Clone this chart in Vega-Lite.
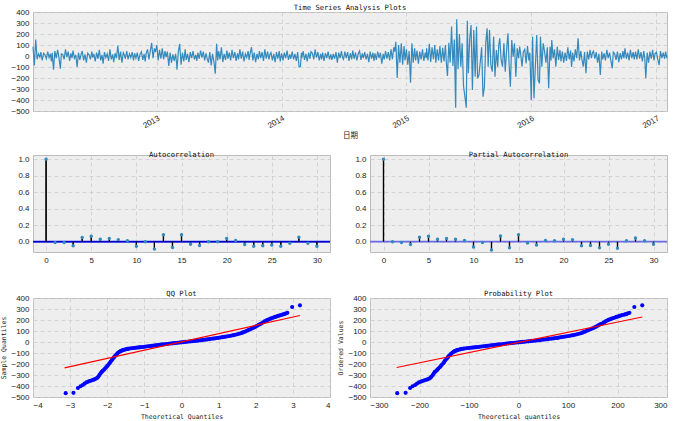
{
 "$schema": "https://vega.github.io/schema/vega-lite/v6.json",
 "background": "white",
 "padding": {"left": 0, "top": 3, "right": 5, "bottom": 0},
 "spacing": 143,
 "bounds": "flush",
 "config": {
  "font": "Liberation Sans",
  "view": {"stroke": "#bcbcbc", "strokeWidth": 1, "fill": "#eeeeee"},
  "axis": {"grid": true, "gridColor": "#cccccc", "gridDash": [4, 3], "gridWidth": 0.8, "domain": false, "ticks": false, "labelOverlap": false, "labelBound": false, "labelFont": "Liberation Sans", "labelFontSize": 8, "labelColor": "#222222", "labelPadding": 4, "titleFont": "DejaVu Sans Mono", "titleFontSize": 6.5, "titleFontWeight": "normal", "titleColor": "#222222"},
  "title": {"font": "DejaVu Sans Mono", "fontSize": 7.2, "fontWeight": "normal", "color": "#111111", "offset": -3, "frame": "group"}
 },
 "datasets": {
  "ts": [
   {"d":"2012-01-05","v":85},{"d":"2012-01-09","v":-85},{"d":"2012-01-13","v":150},{"d":"2012-01-17","v":-30},{"d":"2012-01-21","v":20},{"d":"2012-01-25","v":-10},{"d":"2012-01-28","v":35},
   {"d":"2012-02-01","v":-40},{"d":"2012-02-05","v":25},{"d":"2012-02-09","v":10},{"d":"2012-02-13","v":-25},{"d":"2012-02-17","v":40},{"d":"2012-02-21","v":-15},{"d":"2012-02-25","v":20},{"d":"2012-02-28","v":-50},
   {"d":"2012-03-01","v":30},{"d":"2012-03-05","v":-125},{"d":"2012-03-09","v":45},{"d":"2012-03-13","v":-20},{"d":"2012-03-17","v":55},{"d":"2012-03-21","v":-15},{"d":"2012-03-25","v":-115},{"d":"2012-03-28","v":20},
   {"d":"2012-04-01","v":15},{"d":"2012-04-05","v":-30},{"d":"2012-04-09","v":60},{"d":"2012-04-13","v":-10},{"d":"2012-04-17","v":40},{"d":"2012-04-21","v":-45},{"d":"2012-04-25","v":25},{"d":"2012-04-28","v":-20},
   {"d":"2012-05-01","v":50},{"d":"2012-05-05","v":-20},{"d":"2012-05-09","v":10},{"d":"2012-05-13","v":-100},{"d":"2012-05-17","v":30},{"d":"2012-05-21","v":-35},{"d":"2012-05-25","v":20},{"d":"2012-05-28","v":45},
   {"d":"2012-06-01","v":-40},{"d":"2012-06-05","v":15},{"d":"2012-06-09","v":-60},{"d":"2012-06-13","v":25},{"d":"2012-06-17","v":10},{"d":"2012-06-21","v":-30},{"d":"2012-06-25","v":40},{"d":"2012-06-28","v":-15},
   {"d":"2012-07-01","v":20},{"d":"2012-07-05","v":-50},{"d":"2012-07-09","v":30},{"d":"2012-07-13","v":-25},{"d":"2012-07-17","v":55},{"d":"2012-07-21","v":-40},{"d":"2012-07-25","v":10},{"d":"2012-07-28","v":-70},
   {"d":"2012-08-01","v":35},{"d":"2012-08-05","v":-15},{"d":"2012-08-09","v":20},{"d":"2012-08-13","v":-45},{"d":"2012-08-17","v":60},{"d":"2012-08-21","v":-30},{"d":"2012-08-25","v":15},{"d":"2012-08-28","v":-55},
   {"d":"2012-09-01","v":25},{"d":"2012-09-05","v":-20},{"d":"2012-09-09","v":95},{"d":"2012-09-13","v":-35},{"d":"2012-09-17","v":40},{"d":"2012-09-21","v":-60},{"d":"2012-09-25","v":30},{"d":"2012-09-28","v":10},
   {"d":"2012-10-01","v":-25},{"d":"2012-10-05","v":45},{"d":"2012-10-09","v":-30},{"d":"2012-10-13","v":20},{"d":"2012-10-17","v":-15},{"d":"2012-10-21","v":35},{"d":"2012-10-25","v":-40},{"d":"2012-10-28","v":25},
   {"d":"2012-11-01","v":-20},{"d":"2012-11-05","v":30},{"d":"2012-11-09","v":-45},{"d":"2012-11-13","v":15},{"d":"2012-11-17","v":40},{"d":"2012-11-21","v":-35},{"d":"2012-11-25","v":20},{"d":"2012-11-28","v":-50},
   {"d":"2012-12-01","v":25},{"d":"2012-12-05","v":60},{"d":"2012-12-09","v":-30},{"d":"2012-12-13","v":45},{"d":"2012-12-17","v":120},{"d":"2012-12-21","v":-20},{"d":"2012-12-25","v":70},{"d":"2012-12-28","v":35},
   {"d":"2013-01-01","v":100},{"d":"2013-01-05","v":-40},{"d":"2013-01-09","v":55},{"d":"2013-01-13","v":-25},{"d":"2013-01-17","v":70},{"d":"2013-01-21","v":-30},{"d":"2013-01-25","v":45},{"d":"2013-01-28","v":-10},
   {"d":"2013-02-01","v":40},{"d":"2013-02-05","v":-90},{"d":"2013-02-09","v":30},{"d":"2013-02-13","v":-60},{"d":"2013-02-17","v":15},{"d":"2013-02-21","v":-45},{"d":"2013-02-25","v":20},{"d":"2013-02-28","v":-70},
   {"d":"2013-03-01","v":-125},{"d":"2013-03-05","v":40},{"d":"2013-03-09","v":110},{"d":"2013-03-13","v":-80},{"d":"2013-03-17","v":30},{"d":"2013-03-21","v":-50},{"d":"2013-03-25","v":60},{"d":"2013-03-28","v":-35},
   {"d":"2013-04-01","v":20},{"d":"2013-04-05","v":-55},{"d":"2013-04-09","v":35},{"d":"2013-04-13","v":-20},{"d":"2013-04-17","v":45},{"d":"2013-04-21","v":-30},{"d":"2013-04-25","v":10},{"d":"2013-04-28","v":-45},
   {"d":"2013-05-01","v":30},{"d":"2013-05-05","v":-25},{"d":"2013-05-09","v":50},{"d":"2013-05-13","v":-15},{"d":"2013-05-17","v":40},{"d":"2013-05-21","v":-40},{"d":"2013-05-25","v":25},{"d":"2013-05-28","v":-20},
   {"d":"2013-06-01","v":-60},{"d":"2013-06-05","v":35},{"d":"2013-06-09","v":-85},{"d":"2013-06-13","v":20},{"d":"2013-06-17","v":-50},{"d":"2013-06-21","v":-160},{"d":"2013-06-25","v":110},{"d":"2013-06-28","v":-40},
   {"d":"2013-07-01","v":45},{"d":"2013-07-05","v":-30},{"d":"2013-07-09","v":80},{"d":"2013-07-13","v":-55},{"d":"2013-07-17","v":20},{"d":"2013-07-21","v":-35},{"d":"2013-07-25","v":50},{"d":"2013-07-28","v":-25},
   {"d":"2013-08-01","v":30},{"d":"2013-08-05","v":-40},{"d":"2013-08-09","v":55},{"d":"2013-08-13","v":-20},{"d":"2013-08-17","v":35},{"d":"2013-08-21","v":-45},{"d":"2013-08-25","v":25},{"d":"2013-08-28","v":-30},
   {"d":"2013-09-01","v":60},{"d":"2013-09-05","v":-25},{"d":"2013-09-09","v":40},{"d":"2013-09-13","v":-50},{"d":"2013-09-17","v":20},{"d":"2013-09-21","v":-15},{"d":"2013-09-25","v":45},{"d":"2013-09-28","v":-35},
   {"d":"2013-10-01","v":25},{"d":"2013-10-05","v":80},{"d":"2013-10-09","v":-40},{"d":"2013-10-13","v":30},{"d":"2013-10-17","v":-55},{"d":"2013-10-21","v":20},{"d":"2013-10-25","v":-30},{"d":"2013-10-28","v":45},
   {"d":"2013-11-01","v":-20},{"d":"2013-11-05","v":35},{"d":"2013-11-09","v":-45},{"d":"2013-11-13","v":60},{"d":"2013-11-17","v":-25},{"d":"2013-11-21","v":40},{"d":"2013-11-25","v":-30},{"d":"2013-11-28","v":15},
   {"d":"2013-12-01","v":30},{"d":"2013-12-05","v":-40},{"d":"2013-12-09","v":20},{"d":"2013-12-13","v":-55},{"d":"2013-12-17","v":35},{"d":"2013-12-21","v":-25},{"d":"2013-12-25","v":45},{"d":"2013-12-28","v":-50},
   {"d":"2014-01-01","v":25},{"d":"2014-01-05","v":-40},{"d":"2014-01-09","v":30},{"d":"2014-01-13","v":-20},{"d":"2014-01-17","v":50},{"d":"2014-01-21","v":-35},{"d":"2014-01-25","v":15},{"d":"2014-01-28","v":-25},
   {"d":"2014-02-01","v":40},{"d":"2014-02-05","v":-30},{"d":"2014-02-09","v":20},{"d":"2014-02-13","v":-45},{"d":"2014-02-17","v":35},{"d":"2014-02-21","v":-100},{"d":"2014-02-25","v":-95},{"d":"2014-02-28","v":30},
   {"d":"2014-03-01","v":-20},{"d":"2014-03-05","v":45},{"d":"2014-03-09","v":-35},{"d":"2014-03-13","v":20},{"d":"2014-03-17","v":-50},{"d":"2014-03-21","v":30},{"d":"2014-03-25","v":-25},{"d":"2014-03-28","v":40},
   {"d":"2014-04-01","v":25},{"d":"2014-04-05","v":-30},{"d":"2014-04-09","v":60},{"d":"2014-04-13","v":-15},{"d":"2014-04-17","v":35},{"d":"2014-04-21","v":-40},{"d":"2014-04-25","v":20},{"d":"2014-04-28","v":-30},
   {"d":"2014-05-01","v":30},{"d":"2014-05-05","v":-45},{"d":"2014-05-09","v":25},{"d":"2014-05-13","v":-20},{"d":"2014-05-17","v":40},{"d":"2014-05-21","v":-30},{"d":"2014-05-25","v":15},{"d":"2014-05-28","v":-35},
   {"d":"2014-06-01","v":20},{"d":"2014-06-05","v":-25},{"d":"2014-06-09","v":35},{"d":"2014-06-13","v":-60},{"d":"2014-06-17","v":30},{"d":"2014-06-21","v":-20},{"d":"2014-06-25","v":45},{"d":"2014-06-28","v":-15},
   {"d":"2014-07-01","v":-30},{"d":"2014-07-05","v":40},{"d":"2014-07-09","v":-20},{"d":"2014-07-13","v":35},{"d":"2014-07-17","v":-45},{"d":"2014-07-21","v":25},{"d":"2014-07-25","v":-30},{"d":"2014-07-28","v":50},
   {"d":"2014-08-01","v":-25},{"d":"2014-08-05","v":30},{"d":"2014-08-09","v":-40},{"d":"2014-08-13","v":20},{"d":"2014-08-17","v":45},{"d":"2014-08-21","v":-35},{"d":"2014-08-25","v":25},{"d":"2014-08-28","v":-20},
   {"d":"2014-09-01","v":35},{"d":"2014-09-05","v":-30},{"d":"2014-09-09","v":20},{"d":"2014-09-13","v":-55},{"d":"2014-09-17","v":40},{"d":"2014-09-21","v":-25},{"d":"2014-09-25","v":30},{"d":"2014-09-28","v":-45},
   {"d":"2014-10-01","v":25},{"d":"2014-10-05","v":-35},{"d":"2014-10-09","v":40},{"d":"2014-10-13","v":-20},{"d":"2014-10-17","v":30},{"d":"2014-10-21","v":-70},{"d":"2014-10-25","v":20},{"d":"2014-10-28","v":-30},
   {"d":"2014-11-01","v":45},{"d":"2014-11-05","v":-25},{"d":"2014-11-09","v":35},{"d":"2014-11-13","v":-40},{"d":"2014-11-17","v":60},{"d":"2014-11-21","v":-30},{"d":"2014-11-25","v":80},{"d":"2014-11-28","v":40},
   {"d":"2014-12-01","v":130},{"d":"2014-12-05","v":-200},{"d":"2014-12-09","v":100},{"d":"2014-12-13","v":-60},{"d":"2014-12-17","v":115},{"d":"2014-12-21","v":-80},{"d":"2014-12-25","v":90},{"d":"2014-12-28","v":-40},
   {"d":"2015-01-01","v":60},{"d":"2015-01-05","v":-80},{"d":"2015-01-09","v":45},{"d":"2015-01-13","v":-242},{"d":"2015-01-17","v":115},{"d":"2015-01-21","v":-60},{"d":"2015-01-25","v":70},{"d":"2015-01-28","v":-40},
   {"d":"2015-02-01","v":50},{"d":"2015-02-05","v":-70},{"d":"2015-02-09","v":40},{"d":"2015-02-13","v":-30},{"d":"2015-02-17","v":60},{"d":"2015-02-21","v":-45},{"d":"2015-02-25","v":30},{"d":"2015-02-28","v":-20},
   {"d":"2015-03-01","v":70},{"d":"2015-03-05","v":-40},{"d":"2015-03-09","v":110},{"d":"2015-03-13","v":-55},{"d":"2015-03-17","v":80},{"d":"2015-03-21","v":-30},{"d":"2015-03-25","v":100},{"d":"2015-03-28","v":-60},
   {"d":"2015-04-01","v":60},{"d":"2015-04-05","v":-40},{"d":"2015-04-09","v":90},{"d":"2015-04-13","v":-60},{"d":"2015-04-17","v":75},{"d":"2015-04-21","v":-50},{"d":"2015-04-25","v":100},{"d":"2015-04-28","v":-70},
   {"d":"2015-05-01","v":-182},{"d":"2015-05-05","v":120},{"d":"2015-05-09","v":-60},{"d":"2015-05-13","v":267},{"d":"2015-05-17","v":-90},{"d":"2015-05-21","v":150},{"d":"2015-05-25","v":-470},{"d":"2015-05-28","v":333},
   {"d":"2015-06-01","v":-120},{"d":"2015-06-05","v":200},{"d":"2015-06-09","v":-97},{"d":"2015-06-13","v":115},{"d":"2015-06-17","v":-273},{"d":"2015-06-21","v":-370},{"d":"2015-06-25","v":-470},{"d":"2015-06-28","v":321},
   {"d":"2015-07-01","v":-157},{"d":"2015-07-05","v":150},{"d":"2015-07-09","v":282},{"d":"2015-07-13","v":-309},{"d":"2015-07-17","v":236},{"d":"2015-07-21","v":-188},{"d":"2015-07-25","v":267},{"d":"2015-07-28","v":-203},
   {"d":"2015-08-01","v":-173},{"d":"2015-08-05","v":-52},{"d":"2015-08-09","v":80},{"d":"2015-08-13","v":-370},{"d":"2015-08-17","v":-279},{"d":"2015-08-21","v":120},{"d":"2015-08-25","v":252},{"d":"2015-08-28","v":-97},
   {"d":"2015-09-01","v":236},{"d":"2015-09-05","v":-82},{"d":"2015-09-09","v":-142},{"d":"2015-09-13","v":176},{"d":"2015-09-17","v":-188},{"d":"2015-09-21","v":55},{"d":"2015-09-25","v":-97},{"d":"2015-09-28","v":100},
   {"d":"2015-10-01","v":161},{"d":"2015-10-05","v":-36},{"d":"2015-10-09","v":-97},{"d":"2015-10-13","v":115},{"d":"2015-10-17","v":-142},{"d":"2015-10-21","v":60},{"d":"2015-10-25","v":206},{"d":"2015-10-28","v":-60},
   {"d":"2015-11-01","v":-279},{"d":"2015-11-05","v":145},{"d":"2015-11-09","v":-6},{"d":"2015-11-13","v":115},{"d":"2015-11-17","v":-188},{"d":"2015-11-21","v":70},{"d":"2015-11-25","v":-21},{"d":"2015-11-28","v":85},
   {"d":"2015-12-01","v":24},{"d":"2015-12-05","v":-97},{"d":"2015-12-09","v":39},{"d":"2015-12-13","v":60},{"d":"2015-12-17","v":-67},{"d":"2015-12-21","v":90},{"d":"2015-12-25","v":-40},{"d":"2015-12-28","v":30},
   {"d":"2016-01-01","v":-400},{"d":"2016-01-05","v":176},{"d":"2016-01-09","v":-385},{"d":"2016-01-13","v":-97},{"d":"2016-01-17","v":191},{"d":"2016-01-21","v":-218},{"d":"2016-01-25","v":-249},{"d":"2016-01-28","v":176},
   {"d":"2016-02-01","v":-97},{"d":"2016-02-05","v":115},{"d":"2016-02-09","v":40},{"d":"2016-02-13","v":-60},{"d":"2016-02-17","v":80},{"d":"2016-02-21","v":-294},{"d":"2016-02-25","v":85},{"d":"2016-02-28","v":-40},
   {"d":"2016-03-01","v":145},{"d":"2016-03-05","v":-21},{"d":"2016-03-09","v":60},{"d":"2016-03-13","v":-97},{"d":"2016-03-17","v":85},{"d":"2016-03-21","v":-36},{"d":"2016-03-25","v":55},{"d":"2016-03-28","v":-50},
   {"d":"2016-04-01","v":40},{"d":"2016-04-05","v":-60},{"d":"2016-04-09","v":30},{"d":"2016-04-13","v":-45},{"d":"2016-04-17","v":80},{"d":"2016-04-21","v":-30},{"d":"2016-04-25","v":50},{"d":"2016-04-28","v":-100},
   {"d":"2016-05-01","v":30},{"d":"2016-05-05","v":-50},{"d":"2016-05-09","v":60},{"d":"2016-05-13","v":-20},{"d":"2016-05-17","v":161},{"d":"2016-05-21","v":-40},{"d":"2016-05-25","v":45},{"d":"2016-05-28","v":-25},
   {"d":"2016-06-01","v":-97},{"d":"2016-06-05","v":35},{"d":"2016-06-09","v":-157},{"d":"2016-06-13","v":40},{"d":"2016-06-17","v":-30},{"d":"2016-06-21","v":55},{"d":"2016-06-25","v":-20},{"d":"2016-06-28","v":30},
   {"d":"2016-07-01","v":45},{"d":"2016-07-05","v":-25},{"d":"2016-07-09","v":35},{"d":"2016-07-13","v":-60},{"d":"2016-07-17","v":20},{"d":"2016-07-21","v":-173},{"d":"2016-07-25","v":40},{"d":"2016-07-28","v":-30},
   {"d":"2016-08-01","v":25},{"d":"2016-08-05","v":-40},{"d":"2016-08-09","v":55},{"d":"2016-08-13","v":-20},{"d":"2016-08-17","v":30},{"d":"2016-08-21","v":-45},{"d":"2016-08-25","v":-112},{"d":"2016-08-28","v":35},
   {"d":"2016-09-01","v":20},{"d":"2016-09-05","v":-35},{"d":"2016-09-09","v":40},{"d":"2016-09-13","v":-55},{"d":"2016-09-17","v":25},{"d":"2016-09-21","v":-30},{"d":"2016-09-25","v":45},{"d":"2016-09-28","v":-20},
   {"d":"2016-10-01","v":70},{"d":"2016-10-05","v":-25},{"d":"2016-10-09","v":30},{"d":"2016-10-13","v":-40},{"d":"2016-10-17","v":55},{"d":"2016-10-21","v":-20},{"d":"2016-10-25","v":35},{"d":"2016-10-28","v":-30},
   {"d":"2016-11-01","v":40},{"d":"2016-11-05","v":-30},{"d":"2016-11-09","v":60},{"d":"2016-11-13","v":-25},{"d":"2016-11-17","v":35},{"d":"2016-11-21","v":-50},{"d":"2016-11-25","v":45},{"d":"2016-11-28","v":-20},
   {"d":"2016-12-01","v":-203},{"d":"2016-12-05","v":30},{"d":"2016-12-09","v":-60},{"d":"2016-12-13","v":40},{"d":"2016-12-17","v":-25},{"d":"2016-12-21","v":55},{"d":"2016-12-25","v":-40},{"d":"2016-12-28","v":20},
   {"d":"2017-01-01","v":35},{"d":"2017-01-05","v":-30},{"d":"2017-01-09","v":-82},{"d":"2017-01-13","v":45},{"d":"2017-01-17","v":-20},{"d":"2017-01-21","v":30},{"d":"2017-01-25","v":-25},{"d":"2017-01-28","v":40},
   {"d":"2017-02-01","v":-21}
  ],
  "acf": [
   {"lag":0,"acf":1,"pacf":1},{"lag":1,"acf":-0.01,"pacf":0.0},{"lag":2,"acf":-0.01,"pacf":-0.01},{"lag":3,"acf":-0.05,"pacf":-0.035},{"lag":4,"acf":0.05,"pacf":0.055},{"lag":5,"acf":0.065,"pacf":0.065},{"lag":6,"acf":0.03,"pacf":0.03},{"lag":7,"acf":0.04,"pacf":0.04},{"lag":8,"acf":0.025,"pacf":0.03},{"lag":9,"acf":0.01,"pacf":0.015},{"lag":10,"acf":-0.055,"pacf":-0.065},{"lag":11,"acf":0.0,"pacf":-0.01},{"lag":12,"acf":-0.09,"pacf":-0.1},{"lag":13,"acf":0.085,"pacf":0.07},{"lag":14,"acf":-0.07,"pacf":-0.075},{"lag":15,"acf":0.085,"pacf":0.085},{"lag":16,"acf":-0.03,"pacf":-0.015},{"lag":17,"acf":-0.045,"pacf":-0.04},{"lag":18,"acf":0.0,"pacf":0.015},{"lag":19,"acf":0.0,"pacf":0.01},{"lag":20,"acf":0.04,"pacf":0.03},{"lag":21,"acf":0.015,"pacf":0.025},{"lag":22,"acf":-0.035,"pacf":-0.05},{"lag":23,"acf":-0.055,"pacf":-0.045},{"lag":24,"acf":-0.05,"pacf":-0.075},{"lag":25,"acf":-0.04,"pacf":-0.03},{"lag":26,"acf":-0.055,"pacf":-0.08},{"lag":27,"acf":-0.02,"pacf":0.01},{"lag":28,"acf":0.055,"pacf":0.045},{"lag":29,"acf":-0.02,"pacf":0.01},{"lag":30,"acf":-0.055,"pacf":-0.03}
  ],
  "acfband": [{"lo":-0.013,"hi":0.013,"zero":0}],
  "pacfband": [{"lo":-0.011,"hi":0.011}],
  "qq": [
   {"q":-3.12,"p":-245,"v":-465},{"q":-2.91,"p":-228,"v":-462},{"q":-2.79,"p":-219,"v":-418},{"q":-2.72,"p":-214,"v":-402},{"q":-2.66,"p":-209,"v":-391},{"q":-2.61,"p":-205,"v":-378},{"q":-2.56,"p":-201,"v":-367},{"q":-2.51,"p":-197,"v":-360},{"q":-2.47,"p":-194,"v":-355},{"q":-2.43,"p":-191,"v":-350},{"q":-2.39,"p":-188,"v":-345},{"q":-2.35,"p":-184,"v":-340},{"q":-2.31,"p":-181,"v":-334},{"q":-2.27,"p":-178,"v":-326},{"q":-2.24,"p":-176,"v":-315},{"q":-2.21,"p":-173,"v":-300},{"q":-2.18,"p":-171,"v":-285},{"q":-2.15,"p":-169,"v":-272},{"q":-2.12,"p":-166,"v":-262},{"q":-2.09,"p":-164,"v":-252},{"q":-2.06,"p":-162,"v":-242},{"q":-2.03,"p":-159,"v":-230},{"q":-2.0,"p":-157,"v":-218},{"q":-1.97,"p":-155,"v":-207},{"q":-1.94,"p":-152,"v":-193},{"q":-1.91,"p":-150,"v":-180},{"q":-1.88,"p":-148,"v":-166},{"q":-1.85,"p":-145,"v":-152},{"q":-1.82,"p":-143,"v":-140},{"q":-1.79,"p":-141,"v":-128},{"q":-1.76,"p":-138,"v":-116},{"q":-1.73,"p":-136,"v":-105},{"q":-1.7,"p":-133,"v":-96},{"q":-1.67,"p":-131,"v":-89},{"q":-1.64,"p":-129,"v":-83},{"q":-1.61,"p":-126,"v":-78},{"q":-1.58,"p":-124,"v":-74},{"q":-1.55,"p":-122,"v":-71},{"q":-1.52,"p":-119,"v":-68},{"q":-1.49,"p":-117,"v":-66},{"q":-1.46,"p":-115,"v":-63},{"q":-1.43,"p":-112,"v":-61},{"q":-1.4,"p":-110,"v":-59},
   {"q":-1.35,"p":-106,"v":-57},{"q":-1.3,"p":-102,"v":-55},{"q":-1.25,"p":-98,"v":-53},{"q":-1.2,"p":-94,"v":-51},{"q":-1.15,"p":-90,"v":-49},{"q":-1.1,"p":-86,"v":-47},{"q":-1.05,"p":-82,"v":-45},{"q":-1.0,"p":-79,"v":-43},{"q":-0.95,"p":-75,"v":-41},{"q":-0.9,"p":-71,"v":-39},{"q":-0.85,"p":-67,"v":-37},{"q":-0.8,"p":-63,"v":-35},{"q":-0.75,"p":-59,"v":-33},{"q":-0.7,"p":-55,"v":-30},{"q":-0.65,"p":-51,"v":-28},{"q":-0.6,"p":-47,"v":-26},{"q":-0.55,"p":-43,"v":-24},{"q":-0.5,"p":-39,"v":-22},{"q":-0.45,"p":-35,"v":-20},{"q":-0.4,"p":-31,"v":-18},{"q":-0.35,"p":-27,"v":-16},{"q":-0.3,"p":-24,"v":-14},{"q":-0.25,"p":-20,"v":-12},{"q":-0.2,"p":-16,"v":-10},{"q":-0.15,"p":-12,"v":-9},{"q":-0.1,"p":-8,"v":-7},{"q":-0.05,"p":-4,"v":-5},{"q":0.0,"p":0,"v":-3},
   {"q":0.05,"p":4,"v":-1},{"q":0.1,"p":8,"v":1},{"q":0.15,"p":12,"v":2},{"q":0.2,"p":16,"v":4},{"q":0.25,"p":20,"v":6},{"q":0.3,"p":24,"v":8},{"q":0.35,"p":27,"v":10},{"q":0.4,"p":31,"v":11},{"q":0.45,"p":35,"v":13},{"q":0.5,"p":39,"v":15},{"q":0.55,"p":43,"v":17},{"q":0.6,"p":47,"v":20},{"q":0.65,"p":51,"v":22},{"q":0.7,"p":55,"v":24},{"q":0.75,"p":59,"v":26},{"q":0.8,"p":63,"v":29},{"q":0.85,"p":67,"v":31},{"q":0.9,"p":71,"v":33},{"q":0.95,"p":75,"v":36},{"q":1.0,"p":79,"v":38},
   {"q":1.05,"p":82,"v":41},{"q":1.1,"p":86,"v":44},{"q":1.15,"p":90,"v":47},{"q":1.2,"p":94,"v":49},{"q":1.25,"p":98,"v":52},{"q":1.3,"p":102,"v":55},{"q":1.35,"p":106,"v":59},{"q":1.4,"p":110,"v":62},{"q":1.45,"p":114,"v":66},{"q":1.5,"p":118,"v":70},{"q":1.55,"p":122,"v":75},{"q":1.6,"p":126,"v":80},
   {"q":1.64,"p":129,"v":85},{"q":1.68,"p":132,"v":91},{"q":1.72,"p":135,"v":96},{"q":1.76,"p":138,"v":102},{"q":1.8,"p":141,"v":108},{"q":1.84,"p":144,"v":114},{"q":1.88,"p":148,"v":120},{"q":1.92,"p":151,"v":127},{"q":1.96,"p":154,"v":133},{"q":2.0,"p":157,"v":140},{"q":2.04,"p":160,"v":148},{"q":2.08,"p":163,"v":156},{"q":2.12,"p":166,"v":163},{"q":2.16,"p":170,"v":171},{"q":2.2,"p":173,"v":180},{"q":2.24,"p":176,"v":188},{"q":2.28,"p":179,"v":195},{"q":2.32,"p":182,"v":201},{"q":2.36,"p":185,"v":207},{"q":2.4,"p":188,"v":212},{"q":2.44,"p":192,"v":218},{"q":2.48,"p":195,"v":223},{"q":2.52,"p":198,"v":228},{"q":2.56,"p":201,"v":232},{"q":2.6,"p":204,"v":237},{"q":2.64,"p":207,"v":241},{"q":2.68,"p":210,"v":245},{"q":2.72,"p":214,"v":249},{"q":2.76,"p":217,"v":253},{"q":2.8,"p":220,"v":258},{"q":2.85,"p":224,"v":265},{"q":2.98,"p":234,"v":318},{"q":3.19,"p":250,"v":333}
  ],
  "qqline": [{"q":-3.15,"v":-235},{"q":3.19,"v":241}],
  "probline": [{"p":-246,"v":-232},{"p":250,"v":227}]
 },
 "vconcat": [
  {
   "hconcat": [
    {
     "width": 634, "height": 99,
     "title": "Time Series Analysis Plots",
     "data": {"name": "ts"},
     "mark": {"type": "line", "color": "#348ABD", "strokeWidth": 1.2},
     "encoding": {
      "x": {"field": "d", "type": "temporal",
       "scale": {"type": "utc", "domain": [{"year": 2012, "month": 1, "date": 5, "utc": true}, {"year": 2017, "month": 2, "date": 1, "utc": true}]},
       "axis": {"title": "日期", "titleFont": "Noto Sans CJK SC", "titleFontSize": 7.5, "labelAngle": -30, "format": "%Y", "tickCount": "year", "titlePadding": 2, "labelPadding": 3}},
      "y": {"field": "v", "type": "quantitative", "scale": {"domain": [-500, 400], "nice": false},
       "axis": {"title": null, "tickCount": 20, "values": [-500, -400, -300, -200, -100, 0, 100, 200, 300, 400]}}
     }
    }
   ],
   "bounds": "flush"
  },
  {
   "hconcat": [
    {
     "width": 297, "height": 97,
     "title": "Autocorrelation",
     "layer": [
      {"data": {"name": "acf"}, "mark": {"type": "rule", "color": "#000000", "strokeWidth": 1.2},
       "encoding": {
        "x": {"field": "lag", "type": "quantitative", "scale": {"domain": [-1.45, 31.45], "nice": false, "zero": false}, "axis": {"title": null, "tickCount": 20, "values": [0, 5, 10, 15, 20, 25, 30]}},
        "y": {"field": "acf", "type": "quantitative", "scale": {"domain": [-0.125, 1.05], "nice": false}, "axis": {"title": null, "tickCount": 20, "values": [0, 0.2, 0.4, 0.6, 0.8, 1.0], "format": ".1f"}},
        "y2": {"datum": 0}
       }},
      {"data": {"name": "acfband"}, "mark": {"type": "rect", "color": "#7f7fff", "opacity": 1}, "encoding": {"y": {"field": "lo", "type": "quantitative"}, "y2": {"field": "hi"}}},
      {"data": {"name": "acfband"}, "mark": {"type": "rule", "color": "#0000cc", "strokeWidth": 1.4}, "encoding": {"y": {"field": "zero", "type": "quantitative"}}},
      {"data": {"name": "acf"}, "mark": {"type": "rule", "color": "#000000", "strokeWidth": 1.2},
       "encoding": {"x": {"field": "lag", "type": "quantitative"}, "y": {"field": "acf", "type": "quantitative"}, "y2": {"datum": 0}}},
      {"data": {"name": "acf"}, "mark": {"type": "circle", "color": "#348ABD", "size": 12, "opacity": 1},
       "encoding": {"x": {"field": "lag", "type": "quantitative"}, "y": {"field": "acf", "type": "quantitative"}}}
     ]
    },
    {
     "width": 297, "height": 97,
     "title": "Partial Autocorrelation",
     "layer": [
      {"data": {"name": "acf"}, "mark": {"type": "rule", "color": "#000000", "strokeWidth": 1.2},
       "encoding": {
        "x": {"field": "lag", "type": "quantitative", "scale": {"domain": [-1.5, 31.5], "nice": false, "zero": false}, "axis": {"title": null, "tickCount": 20, "values": [0, 5, 10, 15, 20, 25, 30]}},
        "y": {"field": "pacf", "type": "quantitative", "scale": {"domain": [-0.125, 1.05], "nice": false}, "axis": {"title": null, "tickCount": 20, "values": [0, 0.2, 0.4, 0.6, 0.8, 1.0], "format": ".1f"}},
        "y2": {"datum": 0}
       }},
      {"data": {"name": "pacfband"}, "mark": {"type": "rect", "color": "#6c6ce8", "opacity": 1}, "encoding": {"y": {"field": "lo", "type": "quantitative"}, "y2": {"field": "hi"}}},
      {"data": {"name": "acf"}, "mark": {"type": "rule", "color": "#000000", "strokeWidth": 1.2},
       "encoding": {"x": {"field": "lag", "type": "quantitative"}, "y": {"field": "pacf", "type": "quantitative"}, "y2": {"datum": 0}}},
      {"data": {"name": "acf"}, "mark": {"type": "circle", "color": "#348ABD", "size": 12, "opacity": 1},
       "encoding": {"x": {"field": "lag", "type": "quantitative"}, "y": {"field": "pacf", "type": "quantitative"}}}
     ]
    }
   ],
   "spacing": 40,
   "bounds": "flush"
  },
  {
   "hconcat": [
    {
     "width": 297, "height": 99,
     "title": "QQ Plot",
     "layer": [
      {"data": {"name": "qq"}, "mark": {"type": "circle", "color": "#0000ff", "size": 17, "opacity": 1},
       "encoding": {
        "x": {"field": "q", "type": "quantitative", "scale": {"domain": [-4, 4], "nice": false}, "axis": {"title": "Theoretical Quantiles", "tickCount": 20, "format": "d", "values": [-4, -3, -2, -1, 0, 1, 2, 3, 4], "titlePadding": 4}},
        "y": {"field": "v", "type": "quantitative", "scale": {"domain": [-500, 400], "nice": false}, "axis": {"title": "Sample Quantiles", "tickCount": 20, "format": "d", "values": [-500, -400, -300, -200, -100, 0, 100, 200, 300, 400], "titlePadding": 4}}
       }},
      {"data": {"name": "qqline"}, "mark": {"type": "line", "color": "#ff0000", "strokeWidth": 1.2},
       "encoding": {"x": {"field": "q", "type": "quantitative"}, "y": {"field": "v", "type": "quantitative"}}}
     ]
    },
    {
     "width": 297, "height": 99,
     "title": "Probability Plot",
     "layer": [
      {"data": {"name": "qq"}, "mark": {"type": "circle", "color": "#0000ff", "size": 17, "opacity": 1},
       "encoding": {
        "x": {"field": "p", "type": "quantitative", "scale": {"domain": [-300, 300], "nice": false}, "axis": {"title": "Theoretical quantiles", "tickCount": 20, "format": "d", "values": [-300, -200, -100, 0, 100, 200, 300], "titlePadding": 4}},
        "y": {"field": "v", "type": "quantitative", "scale": {"domain": [-500, 400], "nice": false}, "axis": {"title": "Ordered Values", "tickCount": 20, "format": "d", "values": [-500, -400, -300, -200, -100, 0, 100, 200, 300, 400], "titlePadding": 4}}
       }},
      {"data": {"name": "probline"}, "mark": {"type": "line", "color": "#ff0000", "strokeWidth": 1.2},
       "encoding": {"x": {"field": "p", "type": "quantitative"}, "y": {"field": "v", "type": "quantitative"}}}
     ]
    }
   ],
   "spacing": 40,
   "bounds": "flush"
  }
 ]
}
